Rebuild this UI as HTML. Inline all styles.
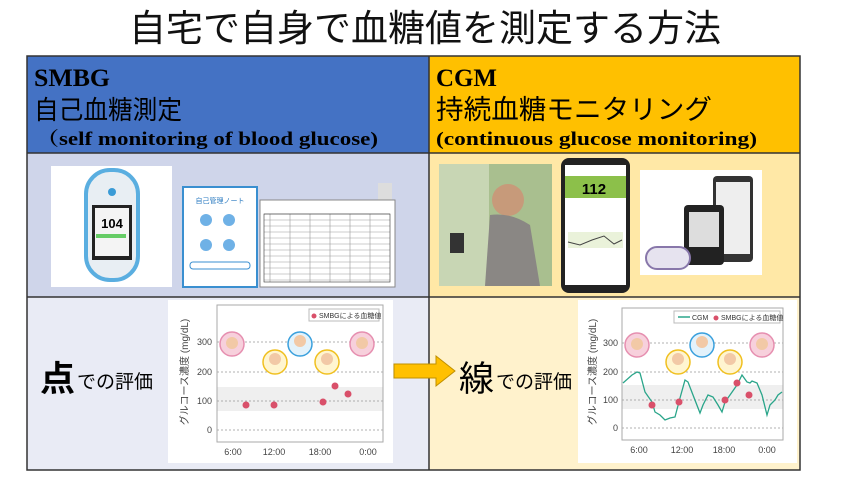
<!DOCTYPE html>
<html><head><meta charset="utf-8"><style>
html,body{margin:0;padding:0;background:#fff;width:850px;height:480px;overflow:hidden}
svg{display:block}
.jp{font-family:"Liberation Sans","Noto Sans CJK JP",sans-serif}
.sf{font-family:"Liberation Serif","Noto Serif CJK SC",serif;font-weight:bold}
</style></head><body>
<svg width="850" height="480" viewBox="0 0 850 480" xmlns="http://www.w3.org/2000/svg">
<text x="425" y="41" text-anchor="middle" class="jp" font-size="37" fill="#111">自宅で自身で血糖値を測定する方法</text>
<!-- cells -->
<rect x="27" y="56" width="402" height="97" fill="#4472C4"/>
<rect x="429" y="56" width="371" height="97" fill="#FFC000"/>
<rect x="27" y="153" width="402" height="144" fill="#CFD5EA"/>
<rect x="429" y="153" width="371" height="144" fill="#FFE8A6"/>
<rect x="27" y="297" width="402" height="173" fill="#E9EBF5"/>
<rect x="429" y="297" width="371" height="173" fill="#FFF2CC"/>
<g stroke="#333" stroke-width="1.5" fill="none">
<rect x="27" y="56" width="773" height="414"/>
<line x1="429" y1="56" x2="429" y2="470"/>
<line x1="27" y1="153" x2="800" y2="153"/>
<line x1="27" y1="297" x2="800" y2="297"/>
</g>
<!-- headers -->
<text x="34" y="86" class="sf" font-size="25" textLength="76" lengthAdjust="spacingAndGlyphs">SMBG</text>
<text x="34" y="119" class="jp" font-size="26" textLength="148" lengthAdjust="spacingAndGlyphs">自己血糖測定</text>
<text x="36" y="145" class="sf" font-size="19" textLength="342" lengthAdjust="spacingAndGlyphs">（self monitoring of blood glucose)</text>
<text x="436" y="86" class="sf" font-size="25" textLength="61" lengthAdjust="spacingAndGlyphs">CGM</text>
<text x="436" y="119" class="jp" font-size="27" textLength="276" lengthAdjust="spacingAndGlyphs">持続血糖モニタリング</text>
<text x="436" y="145" class="sf" font-size="19" textLength="321" lengthAdjust="spacingAndGlyphs">(continuous glucose monitoring)</text>
<!-- left images -->
<rect x="51" y="166" width="121" height="121" fill="#fff"/>
<rect x="86" y="170" width="52" height="110" rx="24" fill="#e8eef3" stroke="#5aaee0" stroke-width="4"/>
<rect x="92" y="205" width="40" height="55" fill="#222"/>
<rect x="95" y="208" width="34" height="48" fill="#f4f4f4"/>
<text x="112" y="228" text-anchor="middle" font-family="Liberation Sans" font-weight="bold" font-size="13">104</text>
<rect x="96" y="234" width="30" height="4" fill="#6c6"/>
<circle cx="112" cy="192" r="4" fill="#3a9bd6"/>
<rect x="183" y="187" width="74" height="100" fill="#fff" stroke="#3a8fd0" stroke-width="2"/>
<text x="220" y="203" text-anchor="middle" class="jp" font-size="7" fill="#2a7ac0">自己管理ノート</text>
<g fill="#6fb1e6"><circle cx="206" cy="220" r="6"/><circle cx="229" cy="220" r="6"/><circle cx="206" cy="245" r="6"/><circle cx="229" cy="245" r="6"/></g>
<rect x="190" y="262" width="60" height="7" rx="3" fill="none" stroke="#3a8fd0"/>
<rect x="378" y="183" width="14" height="30" fill="#ddd"/>
<rect x="260" y="200" width="135" height="87" fill="#fff" stroke="#888"/>
<g stroke="#999" stroke-width="0.6">
<line x1="264" y1="214" x2="390" y2="214"/><line x1="264" y1="220" x2="390" y2="220"/>
<line x1="264" y1="226" x2="390" y2="226"/><line x1="264" y1="232" x2="390" y2="232"/>
<line x1="264" y1="238" x2="390" y2="238"/><line x1="264" y1="244" x2="390" y2="244"/>
<line x1="264" y1="250" x2="390" y2="250"/><line x1="264" y1="256" x2="390" y2="256"/>
<line x1="264" y1="262" x2="390" y2="262"/><line x1="264" y1="268" x2="390" y2="268"/>
<line x1="264" y1="274" x2="390" y2="274"/><line x1="264" y1="280" x2="390" y2="280"/>
<line x1="270" y1="214" x2="270" y2="282"/><line x1="290" y1="214" x2="290" y2="282"/>
<line x1="310" y1="214" x2="310" y2="282"/><line x1="330" y1="214" x2="330" y2="282"/>
<line x1="350" y1="214" x2="350" y2="282"/><line x1="370" y1="214" x2="370" y2="282"/>
<rect x="264" y="214" width="126" height="68" fill="none" stroke="#333"/>
</g>
<!-- right images -->
<rect x="439" y="164" width="113" height="122" fill="#a9bf8f"/>
<rect x="439" y="164" width="50" height="122" fill="#c8d6b4"/>
<circle cx="508" cy="200" r="16" fill="#c79a7a"/>
<path d="M490 215 Q510 212 530 225 L540 286 L485 286 Z" fill="#8a8784"/>
<rect x="450" y="233" width="14" height="20" fill="#333"/>
<rect x="561" y="158" width="69" height="135" rx="8" fill="#222"/>
<rect x="565" y="165" width="61" height="120" fill="#fff"/>
<rect x="565" y="176" width="61" height="22" fill="#8cc04a"/>
<text x="594" y="194" text-anchor="middle" font-family="Liberation Sans" font-weight="bold" font-size="15">112</text>
<rect x="568" y="232" width="55" height="16" fill="#eaf2da"/>
<path d="M568 242 L580 245 L592 240 L604 236 L614 244 L622 240" stroke="#444" fill="none"/>
<rect x="640" y="170" width="122" height="105" fill="#fff"/>
<rect x="713" y="176" width="40" height="86" rx="4" fill="#333"/>
<rect x="716" y="182" width="34" height="72" fill="#eee"/>
<rect x="684" y="205" width="40" height="60" rx="4" fill="#222"/>
<rect x="689" y="212" width="30" height="35" fill="#ddd"/>
<rect x="646" y="247" width="44" height="22" rx="11" fill="#e6e3ef" stroke="#8877aa" stroke-width="2"/>
<!-- bottom left -->
<text x="40" y="391" class="jp" font-size="35" font-weight="bold">点</text>
<text x="77" y="388" class="jp" font-size="19">での評価</text>
<text x="459" y="391" class="jp" font-size="35">線</text>
<text x="496" y="388" class="jp" font-size="19">での評価</text>
<!-- arrow -->
<path d="M394 364 L436 364 L436 356 L455 371 L436 386 L436 378 L394 378 Z" fill="#FFC000" stroke="#c09000"/>
<!-- left chart -->
<rect x="168" y="300" width="225" height="163" fill="#fff"/>
<rect x="217" y="387" width="166" height="24" fill="#efefef"/>
<g stroke="#999" stroke-dasharray="2,2" stroke-width="0.8">
<line x1="217" y1="342" x2="383" y2="342"/><line x1="217" y1="372" x2="383" y2="372"/>
<line x1="217" y1="401" x2="383" y2="401"/><line x1="217" y1="430" x2="383" y2="430"/>
</g>
<rect x="217" y="305" width="166" height="137" fill="none" stroke="#aaa"/>
<g font-family="Liberation Sans" font-size="9" fill="#444" text-anchor="end">
<text x="212" y="345">300</text><text x="212" y="375">200</text><text x="212" y="404">100</text><text x="212" y="433">0</text></g>
<g font-family="Liberation Sans" font-size="9" fill="#444" text-anchor="middle">
<text x="233" y="455">6:00</text><text x="274" y="455">12:00</text><text x="320" y="455">18:00</text><text x="368" y="455">0:00</text></g>
<text transform="translate(188 372) rotate(-90)" text-anchor="middle" class="jp" font-size="10" fill="#444">グルコース濃度 (mg/dL)</text>
<rect x="309" y="309" width="70" height="12" fill="#fff" stroke="#bbb"/>
<text x="319" y="318" class="jp" font-size="7" fill="#333">SMBGによる血糖値</text>
<circle cx="314" cy="316" r="2.5" fill="#d9506a"/>
<g fill="#d9506a"><circle cx="246" cy="405" r="3.5"/><circle cx="274" cy="405" r="3.5"/><circle cx="323" cy="402" r="3.5"/><circle cx="335" cy="386" r="3.5"/><circle cx="348" cy="394" r="3.5"/></g>
<g stroke-width="1.5">
<circle cx="232" cy="344" r="12" fill="#f7d0dc" stroke="#e68fb0"/>
<circle cx="275" cy="362" r="12" fill="#fff5d0" stroke="#f0c020"/>
<circle cx="300" cy="344" r="12" fill="#e3f2fb" stroke="#3aa0dd"/>
<circle cx="327" cy="362" r="12" fill="#fff5d0" stroke="#f0c020"/>
<circle cx="362" cy="344" r="12" fill="#f7d0dc" stroke="#e68fb0"/>
</g>
<g fill="#f2c9a6"><circle cx="232" cy="343" r="6"/><circle cx="275" cy="359" r="6"/><circle cx="300" cy="341" r="6"/><circle cx="327" cy="359" r="6"/><circle cx="362" cy="343" r="6"/></g>
<!-- right chart -->
<rect x="578" y="300" width="219" height="163" fill="#fff"/>
<rect x="622" y="385" width="161" height="24" fill="#efefef"/>
<g stroke="#999" stroke-dasharray="2,2" stroke-width="0.8">
<line x1="622" y1="343" x2="783" y2="343"/><line x1="622" y1="372" x2="783" y2="372"/>
<line x1="622" y1="400" x2="783" y2="400"/><line x1="622" y1="428" x2="783" y2="428"/>
</g>
<rect x="622" y="308" width="161" height="132" fill="none" stroke="#aaa"/>
<g font-family="Liberation Sans" font-size="9" fill="#444" text-anchor="end">
<text x="618" y="346">300</text><text x="618" y="375">200</text><text x="618" y="403">100</text><text x="618" y="431">0</text></g>
<g font-family="Liberation Sans" font-size="9" fill="#444" text-anchor="middle">
<text x="639" y="453">6:00</text><text x="682" y="453">12:00</text><text x="724" y="453">18:00</text><text x="767" y="453">0:00</text></g>
<text transform="translate(596 372) rotate(-90)" text-anchor="middle" class="jp" font-size="10" fill="#444">グルコース濃度 (mg/dL)</text>
<rect x="674" y="311" width="106" height="12" fill="#fff" stroke="#bbb"/>
<line x1="678" y1="317" x2="690" y2="317" stroke="#2aa58a" stroke-width="1.5"/>
<text x="692" y="320" class="jp" font-size="7" fill="#333">CGM</text>
<circle cx="716" cy="318" r="2.5" fill="#d9506a"/>
<text x="721" y="320" class="jp" font-size="7" fill="#333">SMBGによる血糖値</text>
<polyline fill="none" stroke="#2aa58a" stroke-width="1.3" points="623,383 632,375 637,372 640,373 645,392 652,402 655,412 660,415 665,420 670,418 675,417 680,398 685,380 688,382 693,395 700,413 703,405 708,395 713,397 718,405 722,412 725,402 730,395 737,385 742,375 747,382 750,383 752,381 757,383 762,395 767,415 770,405 775,400 778,395 782,392"/>
<g fill="#d9506a"><circle cx="652" cy="405" r="3.5"/><circle cx="679" cy="402" r="3.5"/><circle cx="725" cy="400" r="3.5"/><circle cx="737" cy="383" r="3.5"/><circle cx="749" cy="395" r="3.5"/></g>
<g stroke-width="1.5">
<circle cx="637" cy="345" r="12" fill="#f7d0dc" stroke="#e68fb0"/>
<circle cx="678" cy="362" r="12" fill="#fff5d0" stroke="#f0c020"/>
<circle cx="702" cy="345" r="12" fill="#e3f2fb" stroke="#3aa0dd"/>
<circle cx="730" cy="362" r="12" fill="#fff5d0" stroke="#f0c020"/>
<circle cx="762" cy="345" r="12" fill="#f7d0dc" stroke="#e68fb0"/>
</g>
<g fill="#f2c9a6"><circle cx="637" cy="344" r="6"/><circle cx="678" cy="359" r="6"/><circle cx="702" cy="342" r="6"/><circle cx="730" cy="359" r="6"/><circle cx="762" cy="344" r="6"/></g>
</svg>
</body></html>
